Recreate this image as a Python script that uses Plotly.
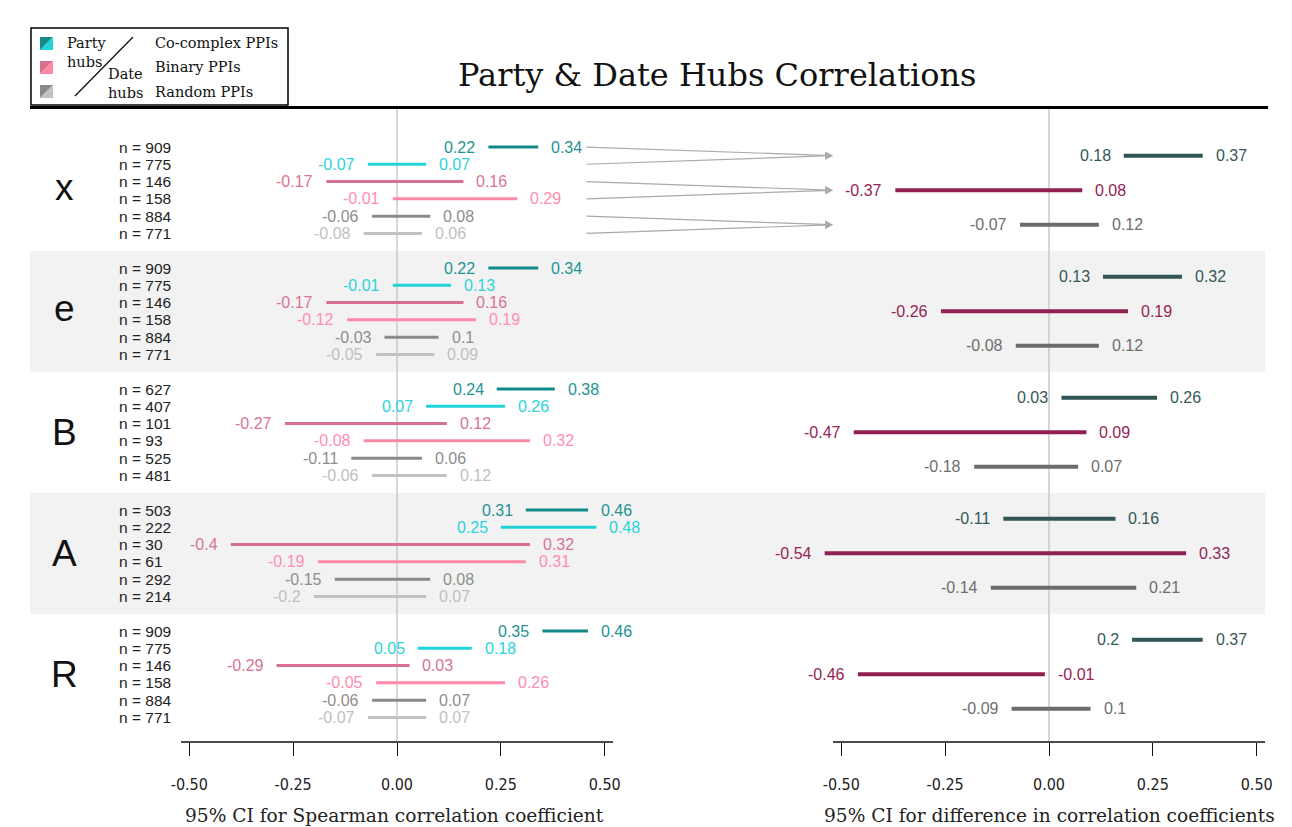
import plotly.graph_objects as go

# ---------------- data ----------------
groups = ["x", "e", "B", "A", "R"]
row_kinds = ["Co-complex party", "Co-complex date", "Binary party",
             "Binary date", "Random party", "Random date"]
n_values = [
    [909, 775, 146, 158, 884, 771],
    [909, 775, 146, 158, 884, 771],
    [627, 407, 101, 93, 525, 481],
    [503, 222, 30, 61, 292, 214],
    [909, 775, 146, 158, 884, 771],
]
ci_low = [
    [0.22, -0.07, -0.17, -0.01, -0.06, -0.08],
    [0.22, -0.01, -0.17, -0.12, -0.03, -0.05],
    [0.24, 0.07, -0.27, -0.08, -0.11, -0.06],
    [0.31, 0.25, -0.40, -0.19, -0.15, -0.20],
    [0.35, 0.05, -0.29, -0.05, -0.06, -0.07],
]
ci_high = [
    [0.34, 0.07, 0.16, 0.29, 0.08, 0.06],
    [0.34, 0.13, 0.16, 0.19, 0.10, 0.09],
    [0.38, 0.26, 0.12, 0.32, 0.06, 0.12],
    [0.46, 0.48, 0.32, 0.31, 0.08, 0.07],
    [0.46, 0.18, 0.03, 0.26, 0.07, 0.07],
]
diff_kinds = ["Co-complex", "Binary", "Random"]
diff_low = [
    [0.18, -0.37, -0.07],
    [0.13, -0.26, -0.08],
    [0.03, -0.47, -0.18],
    [-0.11, -0.54, -0.14],
    [0.20, -0.46, -0.09],
]
diff_high = [
    [0.37, 0.08, 0.12],
    [0.32, 0.19, 0.12],
    [0.26, 0.09, 0.07],
    [0.16, 0.33, 0.21],
    [0.37, -0.01, 0.10],
]
tick_vals = [-0.5, -0.25, 0.0, 0.25, 0.5]
tick_text = ["-0.50", "-0.25", "0.00", "0.25", "0.50"]

# ---------------- styles ----------------
left_line_colors = ["#138a8a", "#1fd3d8", "#d6708e", "#ff87a8", "#8a8a8a", "#c2c2c2"]
left_text_colors = ["#239393", "#2bd3da", "#d87493", "#ff8db0", "#8e8e8e", "#c0c0c0"]
right_line_colors = ["#2f5555", "#901f52", "#6b6b6b"]
right_text_colors = ["#345858", "#942455", "#6e6e6e"]

SANS = "Liberation Sans, Arial, Helvetica, sans-serif"
NARROW = "Liberation Sans Narrow, DejaVu Sans Condensed, sans-serif"
SERIF = "DejaVu Serif, serif"

# page geometry: the page body has an 8px margin, so the figure is drawn
# 8px in from the top-left; positions below are screen pixels.
SCREEN_W, SCREEN_H = 1292, 827
OFF = 8
W, H = SCREEN_W - 2 * OFF, SCREEN_H - OFF

ROWS_PER_GROUP = 7          # 6 rows + 1 gap row
U = 121.0 / ROWS_PER_GROUP  # pixels per row unit
TOP = 147.0                 # screen pixel of the first row
PX_PER_UNIT = 415.4         # x pixels per correlation unit


def px_x(p):
    return (p - OFF) / W


def px_y(p):
    return 1 - (p - OFF) / H


fig = go.Figure()

for r in range(6):
    xs, ys = [], []
    for g in range(len(groups)):
        y = g * ROWS_PER_GROUP + r
        xs += [ci_low[g][r], ci_high[g][r], None]
        ys += [y, y, None]
    fig.add_trace(go.Scatter(x=xs, y=ys, mode="lines", xaxis="x", yaxis="y",
                             line=dict(color=left_line_colors[r], width=3),
                             name=row_kinds[r], showlegend=False, hoverinfo="skip"))

for k in range(3):
    xs, ys = [], []
    for g in range(len(groups)):
        y = g * ROWS_PER_GROUP + 2 * k + 0.5
        xs += [diff_low[g][k], diff_high[g][k], None]
        ys += [y, y, None]
    fig.add_trace(go.Scatter(x=xs, y=ys, mode="lines", xaxis="x2", yaxis="y",
                             line=dict(color=right_line_colors[k], width=4),
                             name=diff_kinds[k], showlegend=False, hoverinfo="skip"))

ann = []
for g in range(len(groups)):
    for r in range(6):
        y = g * ROWS_PER_GROUP + r
        ann.append(dict(x=ci_low[g][r], y=y, xref="x", yref="y", text=f"{ci_low[g][r]:g}",
                        xanchor="right", yanchor="middle", xshift=-11, showarrow=False,
                        font=dict(family=SANS, size=16, color=left_text_colors[r])))
        ann.append(dict(x=ci_high[g][r], y=y, xref="x", yref="y", text=f"{ci_high[g][r]:g}",
                        xanchor="left", yanchor="middle", xshift=11, showarrow=False,
                        font=dict(family=SANS, size=16, color=left_text_colors[r])))
        ann.append(dict(x=px_x(117), y=y, xref="paper", yref="y", text=f"n = {n_values[g][r]}",
                        xanchor="left", yanchor="middle", showarrow=False,
                        font=dict(family=SANS, size=15.5, color="#222222")))
    for k in range(3):
        y = g * ROWS_PER_GROUP + 2 * k + 0.5
        ann.append(dict(x=diff_low[g][k], y=y, xref="x2", yref="y", text=f"{diff_low[g][k]:g}",
                        xanchor="right", yanchor="middle", xshift=-11, showarrow=False,
                        font=dict(family=SANS, size=16, color=right_text_colors[k])))
        ann.append(dict(x=diff_high[g][k], y=y, xref="x2", yref="y", text=f"{diff_high[g][k]:g}",
                        xanchor="left", yanchor="middle", xshift=11, showarrow=False,
                        font=dict(family=SANS, size=16, color=right_text_colors[k])))
    ann.append(dict(x=px_x(65), y=g * ROWS_PER_GROUP + 2.5, xref="paper", yref="y",
                    text=groups[g], xanchor="center", yanchor="middle", showarrow=False,
                    yshift=3 if groups[g].islower() else 0,
                    font=dict(family=SANS, size=37, color="#111111")))

# arrows for the first group (left pairs -> right difference)
ARROW_TAIL = (585 - 1049) / PX_PER_UNIT
ARROW_HEAD = (833 - 1049) / PX_PER_UNIT
for k in range(3):
    for j in range(2):
        ann.append(dict(x=ARROW_HEAD, y=2 * k + 0.5, xref="x2", yref="y",
                        ax=ARROW_TAIL, ay=2 * k + j, axref="x2", ayref="y",
                        text="", showarrow=True, arrowhead=2, arrowsize=1.3,
                        arrowwidth=1.2, arrowcolor="#aaaaaa"))

ann.append(dict(x=px_x(717), y=px_y(75), xref="paper", yref="paper",
                text="Party & Date Hubs Correlations", showarrow=False,
                xanchor="center", yanchor="middle",
                font=dict(family=SERIF, size=32, color="#111111")))
ann.append(dict(x=px_x(394), y=px_y(815), xref="paper", yref="paper",
                text="95% CI for Spearman correlation coefficient", showarrow=False,
                xanchor="center", yanchor="middle",
                font=dict(family=SERIF, size=18.6, color="#222222")))
ann.append(dict(x=px_x(1049), y=px_y(815), xref="paper", yref="paper",
                text="95% CI for difference in correlation coefficients", showarrow=False,
                xanchor="center", yanchor="middle",
                font=dict(family=SERIF, size=18.6, color="#222222")))

legend_texts = [
    ("Party", 65, 43), ("hubs", 65, 62), ("Date", 106, 74), ("hubs", 106, 93),
    ("Co-complex PPIs", 153, 43), ("Binary PPIs", 153, 67), ("Random PPIs", 153, 92),
]
for t, x0, y0 in legend_texts:
    ann.append(dict(x=px_x(x0), y=px_y(y0), xref="paper", yref="paper", text=t,
                    showarrow=False, xanchor="left", yanchor="middle",
                    font=dict(family=SERIF, size=14.5, color="#111111")))

shapes = []
for g in (1, 3):
    shapes.append(dict(type="rect", xref="paper", yref="y",
                       x0=px_x(30), x1=px_x(1265),
                       y0=g * ROWS_PER_GROUP - 1, y1=g * ROWS_PER_GROUP + 6,
                       fillcolor="#f2f2f2", line=dict(width=0), layer="below"))
for xr in ("x", "x2"):
    shapes.append(dict(type="line", xref=xr, yref="paper", x0=0, x1=0,
                       y0=px_y(742), y1=px_y(109),
                       line=dict(color="#c8c8c8", width=1.5), layer="below"))
    shapes.append(dict(type="line", xref=xr, yref="paper", x0=-0.52, x1=0.52,
                       y0=px_y(742), y1=px_y(742),
                       line=dict(color="#111111", width=1.5)))
shapes.append(dict(type="line", xref="paper", yref="paper", x0=px_x(30), x1=px_x(1268),
                   y0=px_y(107.5), y1=px_y(107.5), line=dict(color="#000000", width=3)))
shapes.append(dict(type="rect", xref="paper", yref="paper", x0=px_x(31), x1=px_x(288),
                   y0=px_y(105), y1=px_y(28), line=dict(color="#000000", width=1.5),
                   fillcolor="#ffffff"))
shapes.append(dict(type="line", xref="paper", yref="paper", x0=px_x(75), y0=px_y(96),
                   x1=px_x(133), y1=px_y(37), line=dict(color="#111111", width=1.3)))
swatch_tops = [37, 61, 85]
swatch_pairs = [(left_line_colors[0], left_line_colors[1]),
                (left_line_colors[2], left_line_colors[3]),
                (left_line_colors[4], left_line_colors[5])]
for top, (c_party, c_date) in zip(swatch_tops, swatch_pairs):
    x0, x1 = px_x(40), px_x(53)
    y0, y1 = px_y(top), px_y(top + 13)
    shapes.append(dict(type="path", xref="paper", yref="paper",
                       path=f"M {x0} {y0} L {x1} {y0} L {x0} {y1} Z",
                       fillcolor=c_party, line=dict(width=0)))
    shapes.append(dict(type="path", xref="paper", yref="paper",
                       path=f"M {x1} {y0} L {x1} {y1} L {x0} {y1} Z",
                       fillcolor=c_date, line=dict(width=0)))

axis_common = dict(anchor="free", position=px_y(742), showline=False, showgrid=False,
                   zeroline=False, tickvals=tick_vals, ticktext=tick_text,
                   ticks="outside", ticklen=13, tickwidth=1, tickcolor="#111111",
                   ticklabelstandoff=15, automargin=False,
                   tickfont=dict(family=NARROW, size=16, color="#222222"))

x_left0 = (181 - 397) / PX_PER_UNIT
x_left1 = (613 - 397) / PX_PER_UNIT
x_right0 = (800 - 1049) / PX_PER_UNIT
x_right1 = (1265 - 1049) / PX_PER_UNIT

fig.update_layout(
    width=W, height=H, autosize=False,
    margin=dict(l=0, r=0, t=0, b=0, pad=0, autoexpand=False),
    paper_bgcolor="#ffffff", plot_bgcolor="rgba(0,0,0,0)",
    showlegend=False,
    xaxis=dict(domain=[px_x(181), px_x(613)], range=[x_left0, x_left1], **axis_common),
    xaxis2=dict(domain=[px_x(800), px_x(1265)], range=[x_right0, x_right1], **axis_common),
    yaxis=dict(domain=[0, 1], range=[(SCREEN_H - TOP) / U, (OFF - TOP) / U],
               visible=False, anchor="x", fixedrange=True, automargin=False),
    annotations=ann,
    shapes=shapes,
)

fig.write_html("out.html")
